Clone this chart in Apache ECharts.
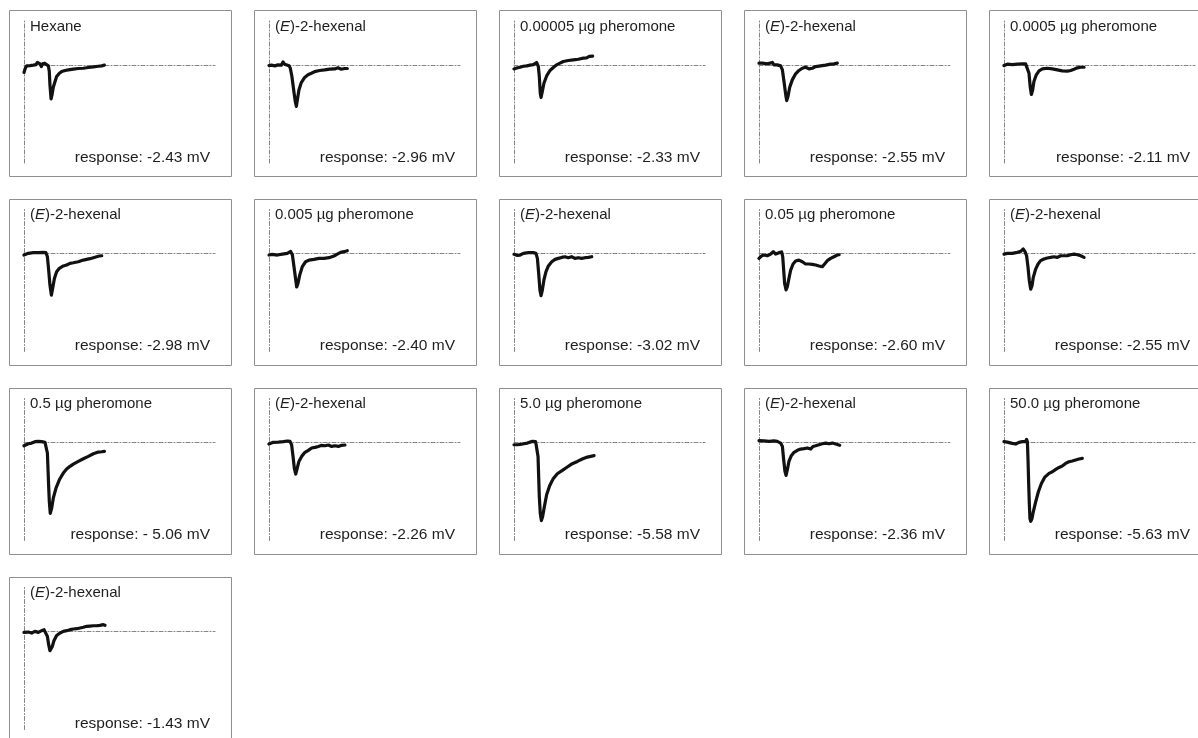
<!DOCTYPE html>
<html>
<head>
<meta charset="utf-8">
<script src="https://cdn.jsdelivr.net/npm/echarts@6/dist/echarts.min.js"></script>
<style>
  html, body { margin: 0; padding: 0; background: #ffffff; }
  #main { width: 1198px; height: 738px; }
</style>
</head>
<body>
<div id="main"></div>
<script>
// EAG recordings: antennal depolarisation (mV) over time (s) for each stimulus puff
const stimuli = [
  'Hexane', '(E)-2-hexenal', '0.00005 µg pheromone', '(E)-2-hexenal', '0.0005 µg pheromone',
  '(E)-2-hexenal', '0.005 µg pheromone', '(E)-2-hexenal', '0.05 µg pheromone', '(E)-2-hexenal',
  '0.5 µg pheromone', '(E)-2-hexenal', '5.0 µg pheromone', '(E)-2-hexenal', '50.0 µg pheromone',
  '(E)-2-hexenal'
];
const responses = [-2.43, -2.96, -2.33, -2.55, -2.11, -2.98, -2.40, -3.02, -2.60, -2.55, -5.06, -2.26, -5.58, -2.36, -5.63, -1.43];
const responseText = [
  'response: -2.43 mV', 'response: -2.96 mV', 'response: -2.33 mV', 'response: -2.55 mV', 'response: -2.11 mV',
  'response: -2.98 mV', 'response: -2.40 mV', 'response: -3.02 mV', 'response: -2.60 mV', 'response: -2.55 mV',
  'response: - 5.06 mV', 'response: -2.26 mV', 'response: -5.58 mV', 'response: -2.36 mV', 'response: -5.63 mV',
  'response: -1.43 mV'
];

// axis ranges shared by every recording
const timeRange = [0, 12];      // s
const voltRange = [-7, 3.2];    // mV

// traces: [time s, potential mV]
const traceHexane = [[0,-0.55],[0.08,-0.24],[0.17,-0.07],[0.38,-0.05],[0.59,-0.02],[0.75,0.02],[0.84,0.17],[0.92,0.26],[1.01,0.07],[1.09,-0.12],[1.17,0.07],[1.30,0.12],[1.42,-0.02],[1.53,-0.07],[1.59,-0.48],[1.63,-1.43],[1.70,-2.43],[1.76,-2.14],[1.84,-1.60],[1.95,-1.19],[2.05,-0.83],[2.22,-0.60],[2.37,-0.48],[2.58,-0.40],[2.79,-0.36],[3.10,-0.31],[3.41,-0.26],[3.73,-0.24],[4.04,-0.19],[4.36,-0.14],[4.67,-0.10],[4.88,-0.07],[5.05,-0.02]];
const traceHexenal1 = [[0,-0.05],[0.15,-0.02],[0.36,-0.07],[0.57,0],[0.77,-0.02],[0.88,0.21],[0.98,0.05],[1.09,-0.02],[1.26,-0.07],[1.34,-0.24],[1.44,-0.83],[1.55,-1.79],[1.65,-2.62],[1.72,-2.96],[1.78,-2.50],[1.88,-1.79],[2.03,-1.26],[2.24,-0.90],[2.45,-0.71],[2.66,-0.60],[2.87,-0.48],[3.18,-0.40],[3.50,-0.36],[3.81,-0.31],[4.13,-0.29],[4.33,-0.21],[4.54,-0.31],[4.75,-0.26],[4.92,-0.26]];
const tracePher00005 = [[0,-0.29],[0.17,-0.22],[0.38,-0.17],[0.59,-0.10],[0.80,-0.07],[1.01,-0.02],[1.21,0.02],[1.42,0.17],[1.53,-0.12],[1.59,-0.83],[1.65,-2.02],[1.70,-2.33],[1.78,-1.90],[1.88,-1.31],[2.05,-0.79],[2.26,-0.40],[2.47,-0.19],[2.68,0],[2.89,0.12],[3.10,0.24],[3.41,0.31],[3.73,0.36],[4.04,0.40],[4.36,0.48],[4.56,0.50],[4.73,0.60],[4.94,0.62]];
const traceHexenal2 = [[0,0.12],[0.21,0.12],[0.52,0.07],[0.84,0.17],[0.94,0],[1.15,0],[1.36,-0.07],[1.47,-0.36],[1.57,-1.19],[1.68,-2.14],[1.74,-2.55],[1.82,-2.26],[1.93,-1.60],[2.09,-1.07],[2.30,-0.64],[2.51,-0.40],[2.72,-0.24],[2.93,-0.17],[3.14,-0.29],[3.35,-0.24],[3.56,-0.12],[3.87,-0.07],[4.19,-0.02],[4.50,0.05],[4.71,0.07],[4.92,0.12]];
const tracePher0005 = [[0,-0.05],[0.21,0.05],[0.52,0.02],[0.84,0.05],[1.15,0.07],[1.36,0.07],[1.47,-0.02],[1.57,-0.60],[1.65,-1.60],[1.72,-2.11],[1.80,-1.79],[1.88,-1.19],[2.03,-0.71],[2.20,-0.43],[2.41,-0.29],[2.72,-0.24],[3.04,-0.29],[3.35,-0.36],[3.66,-0.43],[3.98,-0.45],[4.19,-0.40],[4.40,-0.31],[4.61,-0.21],[4.82,-0.17],[5.03,-0.17]];
const traceHexenal3 = [[0,-0.12],[0.27,0],[0.59,0.05],[0.90,0.05],[1.21,0.07],[1.38,0.05],[1.47,-0.24],[1.55,-1.19],[1.63,-2.26],[1.72,-2.98],[1.80,-2.50],[1.91,-1.79],[2.05,-1.31],[2.22,-1.07],[2.47,-0.90],[2.68,-0.83],[2.89,-0.71],[3.10,-0.67],[3.41,-0.60],[3.73,-0.48],[3.94,-0.43],[4.15,-0.38],[4.36,-0.31],[4.56,-0.24],[4.73,-0.19],[4.88,-0.17]];
const tracePher005 = [[0,-0.12],[0.21,-0.07],[0.52,-0.12],[0.84,-0.05],[1.15,0],[1.36,0.14],[1.47,-0.12],[1.57,-0.95],[1.68,-1.90],[1.74,-2.40],[1.82,-2.14],[1.93,-1.55],[2.09,-0.95],[2.30,-0.60],[2.51,-0.48],[2.83,-0.43],[3.14,-0.36],[3.46,-0.36],[3.77,-0.31],[4.08,-0.19],[4.29,-0.05],[4.50,0.07],[4.71,0.12],[4.92,0.19]];
const traceHexenal4 = [[0,-0.07],[0.17,-0.14],[0.38,-0.12],[0.59,0],[0.90,0.05],[1.21,0.05],[1.38,0],[1.47,-0.36],[1.55,-1.43],[1.63,-2.62],[1.70,-3.02],[1.78,-2.62],[1.88,-1.90],[2.01,-1.31],[2.16,-0.90],[2.37,-0.60],[2.58,-0.43],[2.79,-0.36],[2.99,-0.29],[3.20,-0.24],[3.41,-0.31],[3.62,-0.24],[3.83,-0.36],[4.04,-0.31],[4.25,-0.36],[4.46,-0.31],[4.67,-0.29],[4.88,-0.24]];
const tracePher005b = [[0,-0.36],[0.15,-0.19],[0.31,-0.12],[0.52,-0.17],[0.73,-0.05],[0.90,0.12],[1.05,-0.05],[1.26,0.05],[1.42,0.10],[1.49,-0.24],[1.55,-1.19],[1.61,-2.14],[1.70,-2.60],[1.78,-2.38],[1.88,-1.79],[1.99,-1.19],[2.14,-0.76],[2.30,-0.55],[2.51,-0.48],[2.72,-0.60],[2.93,-0.76],[3.14,-0.76],[3.35,-0.79],[3.56,-0.83],[3.77,-0.90],[3.98,-0.95],[4.08,-0.83],[4.29,-0.52],[4.50,-0.36],[4.71,-0.24],[4.92,-0.12],[5.03,-0.10]];
const traceHexenal5 = [[0,-0.05],[0.21,0],[0.52,0],[0.84,0.07],[1.05,0.14],[1.21,0.31],[1.32,0.12],[1.42,-0.17],[1.51,-1.00],[1.59,-1.95],[1.68,-2.55],[1.76,-2.31],[1.84,-1.71],[1.99,-1.12],[2.14,-0.76],[2.30,-0.52],[2.51,-0.40],[2.72,-0.33],[2.93,-0.29],[3.14,-0.24],[3.35,-0.29],[3.56,-0.17],[3.77,-0.17],[3.98,-0.17],[4.19,-0.10],[4.40,-0.05],[4.61,-0.10],[4.82,-0.17],[5.03,-0.29]];
const tracePher05 = [[0,-0.24],[0.08,-0.12],[0.27,-0.10],[0.48,-0.05],[0.69,0.05],[0.90,0.07],[1.11,0.05],[1.32,0],[1.42,-0.10],[1.47,-0.76],[1.51,-1.95],[1.55,-3.14],[1.59,-4.21],[1.65,-5.06],[1.74,-4.69],[1.84,-3.98],[2.01,-3.26],[2.22,-2.67],[2.47,-2.19],[2.68,-1.90],[2.89,-1.71],[3.10,-1.55],[3.41,-1.36],[3.73,-1.17],[4.04,-1.00],[4.36,-0.81],[4.67,-0.69],[4.88,-0.67],[5.05,-0.64]];
const traceHexenal6 = [[0,-0.12],[0.27,0],[0.59,0.02],[0.90,0.05],[1.17,0.10],[1.32,0.07],[1.42,-0.17],[1.51,-1.00],[1.59,-1.83],[1.68,-2.26],[1.76,-1.90],[1.88,-1.36],[2.05,-1.00],[2.26,-0.71],[2.47,-0.57],[2.68,-0.40],[2.89,-0.36],[3.10,-0.29],[3.31,-0.21],[3.52,-0.24],[3.73,-0.19],[3.94,-0.29],[4.15,-0.24],[4.36,-0.29],[4.56,-0.21],[4.77,-0.19]];
const tracePher5 = [[0,-0.17],[0.21,-0.17],[0.52,-0.12],[0.84,-0.05],[1.15,0.07],[1.36,0.05],[1.47,0],[1.51,-1.00],[1.55,-2.43],[1.59,-3.86],[1.65,-5.05],[1.72,-5.58],[1.80,-5.29],[1.91,-4.57],[2.05,-3.74],[2.24,-3.10],[2.45,-2.62],[2.72,-2.24],[3.04,-2.00],[3.35,-1.76],[3.66,-1.52],[3.98,-1.36],[4.29,-1.19],[4.61,-1.05],[4.82,-1.00],[5.03,-0.95]];
const traceHexenal7 = [[0,0.12],[0.31,0.10],[0.63,0.07],[0.94,0.10],[1.15,0.07],[1.36,-0.05],[1.47,-0.29],[1.55,-1.24],[1.63,-2.07],[1.70,-2.36],[1.78,-1.95],[1.88,-1.36],[2.03,-0.95],[2.20,-0.71],[2.41,-0.57],[2.62,-0.48],[2.83,-0.45],[3.04,-0.40],[3.25,-0.48],[3.39,-0.29],[3.56,-0.24],[3.77,-0.17],[3.98,-0.10],[4.19,-0.05],[4.40,-0.10],[4.61,-0.05],[4.82,-0.12],[5.07,-0.21]];
const tracePher50 = [[0,0.05],[0.21,0.02],[0.52,-0.07],[0.73,-0.12],[0.94,0],[1.15,0.05],[1.26,0.10],[1.36,0.05],[1.42,0.21],[1.47,0.05],[1.51,-1.26],[1.55,-2.93],[1.59,-4.36],[1.63,-5.43],[1.68,-5.63],[1.76,-5.43],[1.84,-4.95],[1.99,-4.24],[2.16,-3.52],[2.35,-2.93],[2.55,-2.50],[2.83,-2.21],[3.04,-2.10],[3.25,-1.93],[3.46,-1.79],[3.66,-1.69],[3.87,-1.50],[4.08,-1.38],[4.29,-1.33],[4.50,-1.26],[4.71,-1.19],[4.92,-1.14]];
const traceHexenal8 = [[0,-0.07],[0.27,-0.05],[0.48,-0.12],[0.69,0],[0.90,-0.07],[1.11,0.05],[1.26,0.12],[1.38,0],[1.47,-0.36],[1.55,-0.95],[1.63,-1.38],[1.70,-1.43],[1.78,-1.07],[1.88,-0.67],[2.05,-0.29],[2.26,-0.12],[2.47,0],[2.68,0.05],[2.89,0.12],[3.10,0.17],[3.31,0.19],[3.52,0.24],[3.73,0.29],[3.94,0.36],[4.15,0.38],[4.36,0.40],[4.56,0.40],[4.77,0.43],[4.98,0.48],[5.09,0.43]];

const traces = [
  traceHexane, traceHexenal1, tracePher00005, traceHexenal2, tracePher0005,
  traceHexenal3, tracePher005, traceHexenal4, tracePher005b, traceHexenal5,
  tracePher05, traceHexenal6, tracePher5, traceHexenal7, tracePher50,
  traceHexenal8
];

// panel layout (5 per row)
const W = 1198;
const colX = [9, 254, 499, 744, 989];
const rowY = [10, 198.5, 387.5, 576.5];
const boxW = 222, boxH = 166;

const font = '"Liberation Sans", Arial, Helvetica, sans-serif';
const axisDash = { color: '#858585', width: 1, type: [4, 2, 1, 2] };

const grids = [], xAxes = [], yAxes = [], series = [], titles = [], boxes = [];

stimuli.forEach((name, i) => {
  const bx = colX[i % 5], by = rowY[Math.floor(i / 5)];
  boxes.push({
    type: 'rect', silent: true,
    shape: { x: bx + 0.5, y: Math.round(by) + 0.5, width: boxW, height: boxH },
    style: { fill: 'none', stroke: '#8f8f8f', lineWidth: 1 }
  });
  grids.push({ left: bx + 15, top: by + 10, width: 191, height: 143 });
  xAxes.push({
    gridIndex: i, type: 'value', min: timeRange[0], max: timeRange[1],
    axisLine: { show: true, onZero: true, lineStyle: axisDash },
    axisTick: { show: false }, axisLabel: { show: false }, splitLine: { show: false }
  });
  yAxes.push({
    gridIndex: i, type: 'value', min: voltRange[0], max: voltRange[1],
    axisLine: { show: true, onZero: true, lineStyle: axisDash },
    axisTick: { show: false }, axisLabel: { show: false }, splitLine: { show: false }
  });
  series.push({
    type: 'line', xAxisIndex: i, yAxisIndex: i, data: traces[i],
    showSymbol: false, symbol: 'none', smooth: false,
    lineStyle: { color: '#111111', width: 3.2, join: 'round', cap: 'round' },
    z: 3
  });
  titles.push({
    text: name.replace('(E)', '({it|E})'),
    left: bx + 21, top: by + 9, padding: 0,
    textStyle: {
      fontFamily: font, fontSize: 15, fontWeight: 'normal', color: '#1e1e1e',
      rich: { it: { fontFamily: font, fontSize: 15, fontStyle: 'italic', color: '#1e1e1e' } }
    }
  });
  titles.push({
    text: responseText[i],
    right: W - (bx + 201), top: by + 139.5, padding: 0,
    textStyle: { fontFamily: font, fontSize: 15.5, fontWeight: 'normal', color: '#1e1e1e' }
  });
});

const chart = echarts.init(document.getElementById('main'), null, { renderer: 'canvas' });
chart.setOption({
  animation: false,
  backgroundColor: '#ffffff',
  title: titles,
  grid: grids,
  xAxis: xAxes,
  yAxis: yAxes,
  series: series,
  graphic: boxes
});
</script>
</body>
</html>
